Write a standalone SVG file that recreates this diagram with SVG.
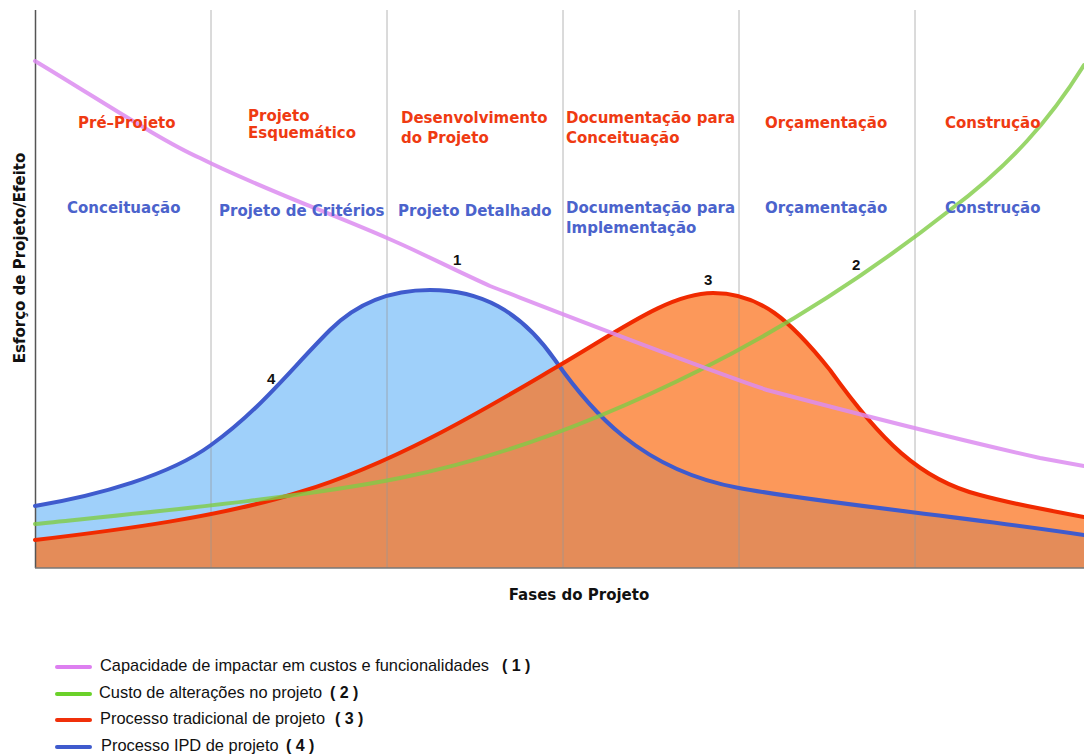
<svg xmlns="http://www.w3.org/2000/svg" width="1084" height="755" viewBox="0 0 1084 755">
  <style>
    .phase-top { font-family: "DejaVu Sans", "Liberation Sans", sans-serif; font-weight: bold; font-size: 15px; fill: #ef3a12; }
    .phase-bot { font-family: "DejaVu Sans", "Liberation Sans", sans-serif; font-weight: bold; font-size: 15px; fill: #4b63cc; }
    .num { font-family: "Liberation Sans", Arial, sans-serif; font-weight: bold; font-size: 15px; fill: #111; }
    .axis-title { font-family: "DejaVu Sans", "Liberation Sans", sans-serif; font-weight: bold; font-size: 15px; fill: #111; }
    .legend { font-family: "Liberation Sans", Arial, sans-serif; font-size: 16.4px; fill: #111; }
    .legend-num { font-family: "Liberation Sans", Arial, sans-serif; font-size: 16px; font-weight: bold; fill: #111; }
    .grid { stroke: #999; stroke-width: 1; stroke-opacity: 0.7; }
    .curve { fill: none; stroke-width: 4; stroke-linecap: round; stroke-linejoin: round; }
    .lg { stroke-width: 4; stroke-linecap: round; }
  </style>

  <rect width="1084" height="755" fill="#ffffff"/>

  <!-- filled areas under the two process curves -->
  <g id="areas">
    <path d="M35,506 C100,495 170,475 211,445 C260,410 290,370 330,330 C360,300 395,290 430,290 C480,290 520,310 555,360 C590,410 640,470 739,488 C820,503 950,515 1084,535 L1084,568 L35,568 Z" fill="#9fd0fa"/>
    <path d="M35,540 C120,530 220,517 300,492 C400,462 500,400 560,365 C620,330 670,293 713,293 C760,293 790,320 830,370 C880,440 920,480 980,495 C1020,506 1060,512 1084,517 L1084,568 L35,568 Z" fill="#fb7623" fill-opacity="0.75"/>
  </g>

  <!-- phase dividers and axes -->
  <g id="grid">
    <line class="grid" x1="211" y1="10" x2="211" y2="568"/>
    <line class="grid" x1="387" y1="10" x2="387" y2="568"/>
    <line class="grid" x1="563" y1="10" x2="563" y2="568"/>
    <line class="grid" x1="739" y1="10" x2="739" y2="568"/>
    <line class="grid" x1="915" y1="10" x2="915" y2="568"/>
    <line x1="35.5" y1="10" x2="35.5" y2="568" stroke="#555" stroke-width="1.5"/>
    <line x1="35" y1="568" x2="1084" y2="568" stroke="#777" stroke-width="1.5"/>
  </g>

  <!-- curves -->
  <g id="connectors">
    <path id="curve-4" class="curve" stroke="#3f5bcd" d="M35,506 C100,495 170,475 211,445 C260,410 290,370 330,330 C360,300 395,290 430,290 C480,290 520,310 555,360 C590,410 640,470 739,488 C820,503 950,515 1084,535"/>
    <path id="curve-3" class="curve" stroke="#f02a00" d="M35,540 C120,530 220,517 300,492 C400,462 500,400 560,365 C620,330 670,293 713,293 C760,293 790,320 830,370 C880,440 920,480 980,495 C1020,506 1060,512 1084,517"/>
    <path id="curve-2" class="curve" stroke="#7fcc45" stroke-opacity="0.8" d="M35,524 C150,512 300,498 400,478 C500,458 600,420 700,370 C800,320 880,265 950,210 C1010,165 1050,120 1084,65"/>
    <path id="curve-1" class="curve" stroke="#dc8cf0" stroke-opacity="0.85" d="M35,61 C100,100 160,140 200,158 C260,188 330,213 387,238 C420,252 450,268 490,286 C560,313 680,360 767,390 C850,412 960,440 1040,458 L1084,466"/>
  </g>

  <!-- curve numbers -->
  <g id="curve-labels">
    <text class="num" x="453" y="265">1</text>
    <text class="num" x="852" y="270">2</text>
    <text class="num" x="704" y="285">3</text>
    <text class="num" x="267" y="384">4</text>
  </g>

  <!-- phase names: traditional process -->
  <g id="phases-traditional">
    <text class="phase-top" x="78" y="128">Pré–Projeto</text>
    <text class="phase-top" x="248" y="121">Projeto</text>
    <text class="phase-top" x="248" y="138">Esquemático</text>
    <text class="phase-top" x="401" y="123">Desenvolvimento</text>
    <text class="phase-top" x="401" y="143">do Projeto</text>
    <text class="phase-top" x="566" y="123">Documentação para</text>
    <text class="phase-top" x="566" y="143">Conceituação</text>
    <text class="phase-top" x="765" y="128">Orçamentação</text>
    <text class="phase-top" x="945" y="128">Construção</text>
  </g>

  <!-- phase names: IPD process -->
  <g id="phases-ipd">
    <text class="phase-bot" x="67" y="213">Conceituação</text>
    <text class="phase-bot" x="219" y="216">Projeto de Critérios</text>
    <text class="phase-bot" x="398" y="216">Projeto Detalhado</text>
    <text class="phase-bot" x="566" y="213">Documentação para</text>
    <text class="phase-bot" x="566" y="233">Implementação</text>
    <text class="phase-bot" x="765" y="213">Orçamentação</text>
    <text class="phase-bot" x="945" y="213">Construção</text>
  </g>

  <!-- axis titles -->
  <g id="axis-titles">
    <text class="axis-title" x="579" y="600" text-anchor="middle">Fases do Projeto</text>
    <text class="axis-title" transform="translate(25,258) rotate(-90)" text-anchor="middle">Esforço de Projeto/Efeito</text>
  </g>

  <!-- legend -->
  <g id="legend">
    <line class="lg" x1="57" y1="667" x2="90" y2="667" stroke="#dd7ff0"/>
    <text class="legend" x="100" y="671">Capacidade de impactar em custos e funcionalidades</text>
    <text class="legend-num" x="502" y="671">( 1 )</text>
    <line class="lg" x1="57" y1="694" x2="90" y2="694" stroke="#6bd12a"/>
    <text class="legend" x="99" y="698">Custo de alterações no projeto</text>
    <text class="legend-num" x="330" y="698">( 2 )</text>
    <line class="lg" x1="57" y1="720" x2="90" y2="720" stroke="#f0300a"/>
    <text class="legend" x="100" y="724">Processo tradicional de projeto</text>
    <text class="legend-num" x="335" y="724">( 3 )</text>
    <line class="lg" x1="57" y1="747" x2="90" y2="747" stroke="#3f5bcd"/>
    <text class="legend" x="101" y="751">Processo IPD de projeto</text>
    <text class="legend-num" x="286" y="751">( 4 )</text>
  </g>
</svg>
